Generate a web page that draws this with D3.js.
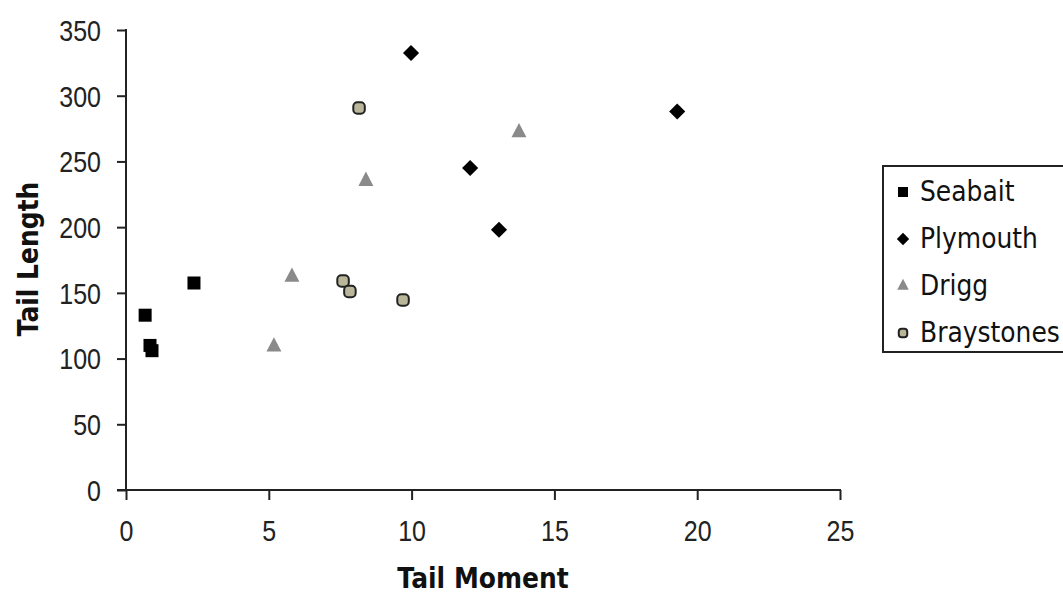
<!DOCTYPE html>
<html><head><meta charset="utf-8">
<script src="https://cdn.jsdelivr.net/npm/d3@7"></script>
<style>body{margin:0;background:#fff}svg{display:block}</style>
</head><body><svg id="c" width="1063" height="595"></svg>
<script>
const seriesNames = ["Seabait","Plymouth","Drigg","Braystones"];
const seabaitX = [0.67, 0.84, 0.91, 2.38];
const seabaitY = [133, 110, 106, 157.5];
const plymouthX = [9.98, 12.05, 13.06, 19.3];
const plymouthY = [332.5, 245, 198, 288];
const driggX = [5.18, 5.81, 8.4, 13.76];
const driggY = [109, 162, 235, 272];
const braystonesX = [7.6, 7.84, 9.7, 8.16];
const braystonesY = [159, 151, 144.6, 290.7];
const xTicks = [0,5,10,15,20,25];
const yTicks = [0,50,100,150,200,250,300,350];

const svg = d3.select("#c");
const x = d3.scaleLinear().domain([0,25]).range([126,840]);
const y = d3.scaleLinear().domain([0,350]).range([490,30]);

const shapes = ["square","diamond","triangle","circle"];
const xs = [seabaitX, plymouthX, driggX, braystonesX];
const ys = [seabaitY, plymouthY, driggY, braystonesY];
const series = seriesNames.map((n,i) => ({name:n, xs:xs[i], ys:ys[i], shape:shapes[i]}));

const SANS = "'Liberation Sans', Arial, sans-serif";
const DEJA = "'DejaVu Sans', sans-serif";

function drawMarker(g, shape, cx, cy, s) {
  if (shape==="square") {
    g.append("rect").attr("x",cx-s/2).attr("y",cy-s/2).attr("width",s).attr("height",s).attr("fill","#000");
  } else if (shape==="diamond") {
    const r = s*0.62;
    g.append("path").attr("d",`M${cx},${cy-r}L${cx+r},${cy}L${cx},${cy+r}L${cx-r},${cy}Z`).attr("fill","#000");
  } else if (shape==="triangle") {
    const w = s*1.15, h = s*1.1;
    g.append("path").attr("d",`M${cx},${cy-h*2/3}L${cx+w/2},${cy+h/3}L${cx-w/2},${cy+h/3}Z`).attr("fill","#8a8a8a");
  } else {
    const t = s-1.5;
    g.append("rect").attr("x",cx-t/2).attr("y",cy-t/2).attr("width",t).attr("height",t).attr("rx",t*0.35)
      .attr("fill","#bab69a").attr("stroke","#222").attr("stroke-width",2);
  }
}

const axisColor = "#222";
const yAxis = d3.axisLeft(y).tickValues(yTicks).tickSize(9).tickPadding(0).tickFormat(d3.format("d"));
const gy = svg.append("g").attr("transform","translate(126,0)").call(yAxis);
gy.attr("font-family",null).attr("font-size",null);
gy.select(".domain").attr("stroke",axisColor).attr("stroke-width",2).attr("d","M0,29V491");
gy.selectAll(".tick line").attr("stroke",axisColor).attr("stroke-width",2);
gy.selectAll(".tick text").attr("x",-25).attr("y",0).attr("dy",null)
  .attr("dominant-baseline","central").attr("transform","scale(1,1.2)").attr("fill","#222")
  .style("font-family",SANS).style("font-size","25px");

const xAxis = d3.axisBottom(x).tickValues(xTicks).tickSize(10).tickPadding(0).tickFormat(d3.format("d"));
const gx = svg.append("g").attr("transform","translate(0,490)").call(xAxis);
gx.attr("font-family",null).attr("font-size",null);
gx.select(".domain").attr("stroke",axisColor).attr("stroke-width",2).attr("d","M117,0H841");
gx.selectAll(".tick line").attr("stroke",axisColor).attr("stroke-width",2);
gx.selectAll(".tick text").attr("dy",null).attr("fill","#222")
  .attr("dominant-baseline","central").attr("y",34).attr("transform","scale(1,1.2)")
  .style("font-family",SANS).style("font-size","25px");

svg.append("text").attr("transform","translate(483,588) scale(1,1.1)").attr("text-anchor","middle")
  .attr("fill","#111").style("font-family",DEJA).style("font-size","25px").style("font-weight","bold").text("Tail Moment");
svg.append("text").attr("transform","translate(38,259) rotate(-90) scale(1,1.1)").attr("text-anchor","middle")
  .attr("fill","#111").style("font-family",DEJA).style("font-size","25px").style("font-weight","bold").text("Tail Length");

const gp = svg.append("g");
series.forEach(s => {
  s.xs.forEach((v,i) => drawMarker(gp, s.shape, x(v), y(s.ys[i]), 13));
});

const lg = svg.append("g");
lg.append("rect").attr("x",883).attr("y",166).attr("width",200).attr("height",186)
  .attr("fill","#fff").attr("stroke","#222").attr("stroke-width",2);
series.forEach((s,i) => {
  const cy = 192 + i*47;
  drawMarker(lg, s.shape, 903, cy, 10);
  lg.append("text").attr("x",920).attr("y",0).attr("dominant-baseline","central")
    .attr("transform",`translate(0,${cy}) scale(1,1.1)`).attr("fill","#111")
    .style("font-family",DEJA).style("font-size","25px").text(s.name);
});
</script></body></html>
